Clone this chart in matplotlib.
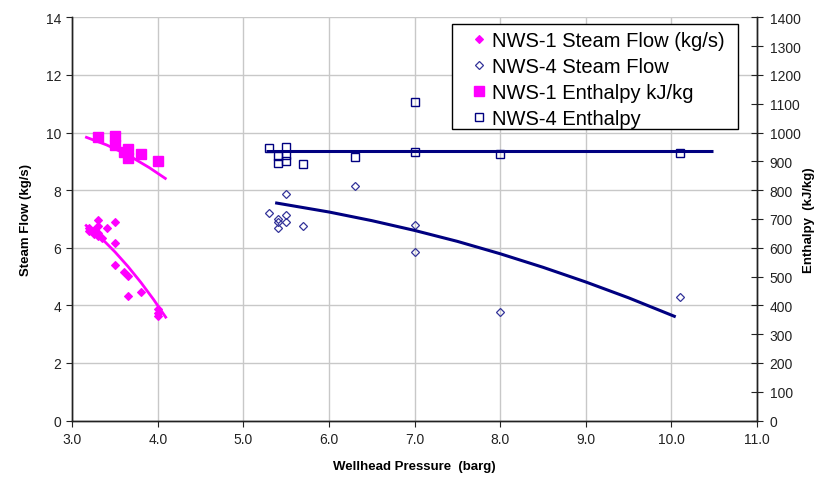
import matplotlib
matplotlib.use("Agg")
import matplotlib.pyplot as plt
from matplotlib.patches import Rectangle

plt.rcParams['font.family'] = ['Liberation Sans', 'DejaVu Sans']

# NWS-1
nws1_flow_p = [3.2, 3.2, 3.25, 3.25, 3.3, 3.3, 3.3, 3.35, 3.3, 3.4, 3.5, 3.5, 3.5,
               3.6, 3.65, 3.65, 3.8, 4.0, 4.0, 4.0]
nws1_flow = [6.58, 6.69, 6.63, 6.46, 6.40, 6.52, 6.75, 6.35, 6.98, 6.67, 6.90, 6.17, 5.40,
             5.17, 5.02, 4.32, 4.46, 3.86, 3.72, 3.64]
nws1_enth_p = [3.3, 3.5, 3.5, 3.65, 3.6, 3.65, 3.8, 4.0]
nws1_enth = [985, 987, 958, 943, 933, 911, 927, 900]

# NWS-4
nws4_flow_p = [5.3, 5.4, 5.4, 5.4, 5.5, 5.5, 5.5, 5.7, 6.3, 7.0, 7.0, 8.0, 10.1]
nws4_flow = [7.21, 7.00, 6.89, 6.69, 7.88, 7.12, 6.89, 6.75, 8.14, 6.78, 5.84, 3.78, 4.30]
nws4_enth_p = [5.3, 5.4, 5.4, 5.5, 5.5, 5.5, 5.7, 6.3, 7.0, 7.0, 8.0, 10.1]
nws4_enth = [947, 918, 895, 950, 923, 900, 889, 916, 1106, 932, 925, 930]

# trend lines as drawn on the chart
trend1_flow_p = [3.15, 3.35, 3.5, 3.65, 3.8, 3.95, 4.1]
trend1_flow = [6.80, 6.30, 5.85, 5.35, 4.80, 4.20, 3.55]
trend1_enth_p = [3.15, 3.4, 3.65, 3.9, 4.1]
trend1_enth = [985, 957, 922, 878, 838]
trend4_flow_p = [5.37, 6.0, 6.5, 7.0, 7.5, 8.0, 8.5, 9.0, 9.5, 10.05]
trend4_flow = [7.56, 7.24, 6.94, 6.60, 6.22, 5.79, 5.32, 4.81, 4.26, 3.60]
trend4_enth_p = [5.26, 10.49]
trend4_enth = [937, 937]

MAG = '#ff00ff'
NAVY = '#000080'

fig = plt.figure(figsize=(8.34, 4.89), dpi=100)
ax = fig.add_axes([0.0867, 0.138, 0.821, 0.8245])
ax2 = ax.twinx()

h1, = ax.plot(nws1_flow_p, nws1_flow, 'D', color=MAG, ms=3.6, mec=MAG, mew=0.8,
              label='NWS-1 Steam Flow (kg/s)')
h2, = ax.plot(nws4_flow_p, nws4_flow, 'D', mfc='none', mec='#333399', ms=3.6, mew=0.9,
              label='NWS-4 Steam Flow')
ax.plot(trend1_flow_p, trend1_flow, color=MAG, lw=2.0, solid_capstyle='butt')
ax.plot(trend4_flow_p, trend4_flow, color=NAVY, lw=2.2, solid_capstyle='butt')

h3, = ax2.plot(nws1_enth_p, nws1_enth, 's', color=MAG, ms=7, label='NWS-1 Enthalpy kJ/kg')
h4, = ax2.plot(nws4_enth_p, nws4_enth, 's', mfc='none', mec=NAVY, ms=6.2, mew=1.0,
               label='NWS-4 Enthalpy')
ax2.plot(trend1_enth_p, trend1_enth, color=MAG, lw=2.0, solid_capstyle='butt')
ax2.plot(trend4_enth_p, trend4_enth, color=NAVY, lw=2.2, solid_capstyle='butt')

ax.set_xlim(3, 11)
ax.set_ylim(0, 14)
ax2.set_ylim(0, 1400)
ax.set_xticks(range(3, 12))
ax.set_xticklabels([f"{v:.1f}" for v in range(3, 12)])
ax.set_yticks(range(0, 15, 2))
ax2.set_yticks(range(0, 1401, 100))

ax.grid(True, color='#c8c8c8', lw=1.0)
ax.set_axisbelow(True)
for a in (ax, ax2):
    a.spines['top'].set_visible(False)
    for s in ('left', 'right', 'bottom'):
        a.spines[s].set_color('#222222')
        a.spines[s].set_linewidth(1.0)

ax.tick_params(axis='both', labelsize=10, colors='#222222', length=4, pad=4)
ax2.tick_params(axis='y', direction='inout', length=8, labelsize=10, colors='#222222', pad=5)

ax.set_xlabel('Wellhead Pressure  (barg)', fontsize=9.5, fontweight='bold', labelpad=10)
ax.set_ylabel('Steam Flow (kg/s)', fontsize=9.5, fontweight='bold', labelpad=10)
ax2.set_ylabel('Enthalpy  (kJ/kg)', fontsize=9.5, fontweight='bold', labelpad=2)

# legend box drawn separately so the padding can match the original
ax2.add_patch(Rectangle((0.555, 0.723), 0.417, 0.26, transform=ax2.transAxes,
                        facecolor='white', edgecolor='black', lw=1.0, zorder=4,
                        clip_on=False))
leg = ax2.legend(handles=[h1, h2, h3, h4], loc='upper left', bbox_to_anchor=(0.5794, 0.966),
                 borderaxespad=0, borderpad=0, fontsize=14.5, frameon=False,
                 numpoints=1, handlelength=1.0, handletextpad=0.13, labelspacing=0.35)
leg.set_zorder(5)

fig.savefig('out.png', dpi=100)
